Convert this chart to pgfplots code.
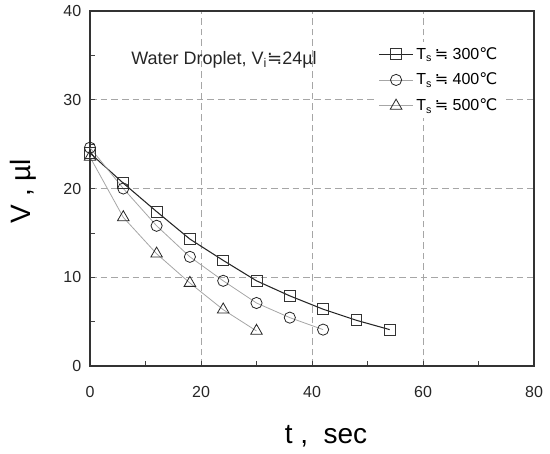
\documentclass[border=0pt]{standalone}
\usepackage{pgfplots}
\pgfplotsset{compat=1.18}
\usepackage{fontspec}
\setmainfont{Liberation Sans}
\newfontfamily\sym{DejaVu Sans}
\newcommand{\appr}{{\sym ≒}}
\newcommand{\degc}{{\sym ℃}}
\begin{document}
\begin{tikzpicture}
\begin{axis}[name=ax, scale only axis, width=333pt, height=266.25pt,
  xmin=0, xmax=80, ymin=0, ymax=40,
  xtick={0,20,...,80}, ytick={0,10,...,40},
  minor xtick={10,30,50,70}, minor ytick={5,15,25,35},
  tick align=inside, tick pos=left,
  major tick length=4pt, minor tick length=4pt,
  every tick/.style={gray!50!black, line width=0.5pt},
  grid=major,
  major grid style={gray!70, dash pattern=on 5pt off 3pt, line width=0.6pt},
  axis line style={gray!40!black, line width=0.9pt},
  ticklabel style={font=\fontsize{12}{14}\selectfont, text=black!85},
  /pgf/number format/assume math mode=true,
  xticklabel style={yshift=-12pt},
  yticklabel style={xshift=-3pt},
  xlabel={t\ ,\ \ sec}, ylabel={V , µl},
  xlabel style={font=\fontsize{21}{25}\selectfont, at={(axis description cs:0.5,0)}, anchor=center, yshift=-53pt, xshift=10.5pt},
  ylabel style={font=\fontsize{21}{25}\selectfont, at={(axis description cs:0,0.493)}, anchor=center, rotate=0, yshift=50pt},
  clip=false,
  legend style={at={(0.93,0.914)}, anchor=north east, draw=none, fill=white,
    font=\fontsize{12}{14}\selectfont, row sep=5pt, inner sep=2pt},
  legend cell align=left,
  legend image code/.code={\draw[mark repeat=2, mark phase=2, #1] plot coordinates {(0cm,0cm) (0.45cm,0cm) (0.9cm,0cm)};},
]
\addplot[black!85, line width=0.8pt, mark=square, mark size=4.1pt, mark options={fill=white, draw=black!80, solid, line width=0.6pt}]
  coordinates {(0,24.0)(6,20.6)(12,17.4)(18,14.3)(24,11.9)(30,9.6)(36,7.9)(42,6.4)(48,5.15)(54,4.1)};
\addlegendentry{T\textsubscript{s}\,\appr\ 300\degc}
\addplot[gray!70, line width=0.6pt, mark=o, mark size=4.2pt, mark options={fill=white, draw=black!85, solid, line width=0.6pt}]
  coordinates {(0,24.6)(6,20.0)(12,15.8)(18,12.3)(24,9.6)(30,7.1)(36,5.45)(42,4.1)};
\addlegendentry{T\textsubscript{s}\,\appr\ 400\degc}
\addplot[gray!70, line width=0.6pt, mark=triangle, mark size=5pt, mark options={fill=white, draw=black!85, solid, line width=0.6pt}]
  coordinates {(0,23.55)(6,16.75)(12,12.65)(18,9.35)(24,6.35)(30,3.95)};
\addlegendentry{T\textsubscript{s}\,\appr\ 500\degc}
\node[anchor=west, font=\fontsize{13.5}{16}\selectfont, text=black!85] at (axis cs:6.6,34.5) {Water Droplet,\ V\textsubscript{i}\appr24µl};
\end{axis}
\pgfresetboundingbox
\path ([shift={(-67.5pt,-65.25pt)}]ax.south west) rectangle ([shift={(12pt,8.25pt)}]ax.north east);
\end{tikzpicture}
\end{document}
